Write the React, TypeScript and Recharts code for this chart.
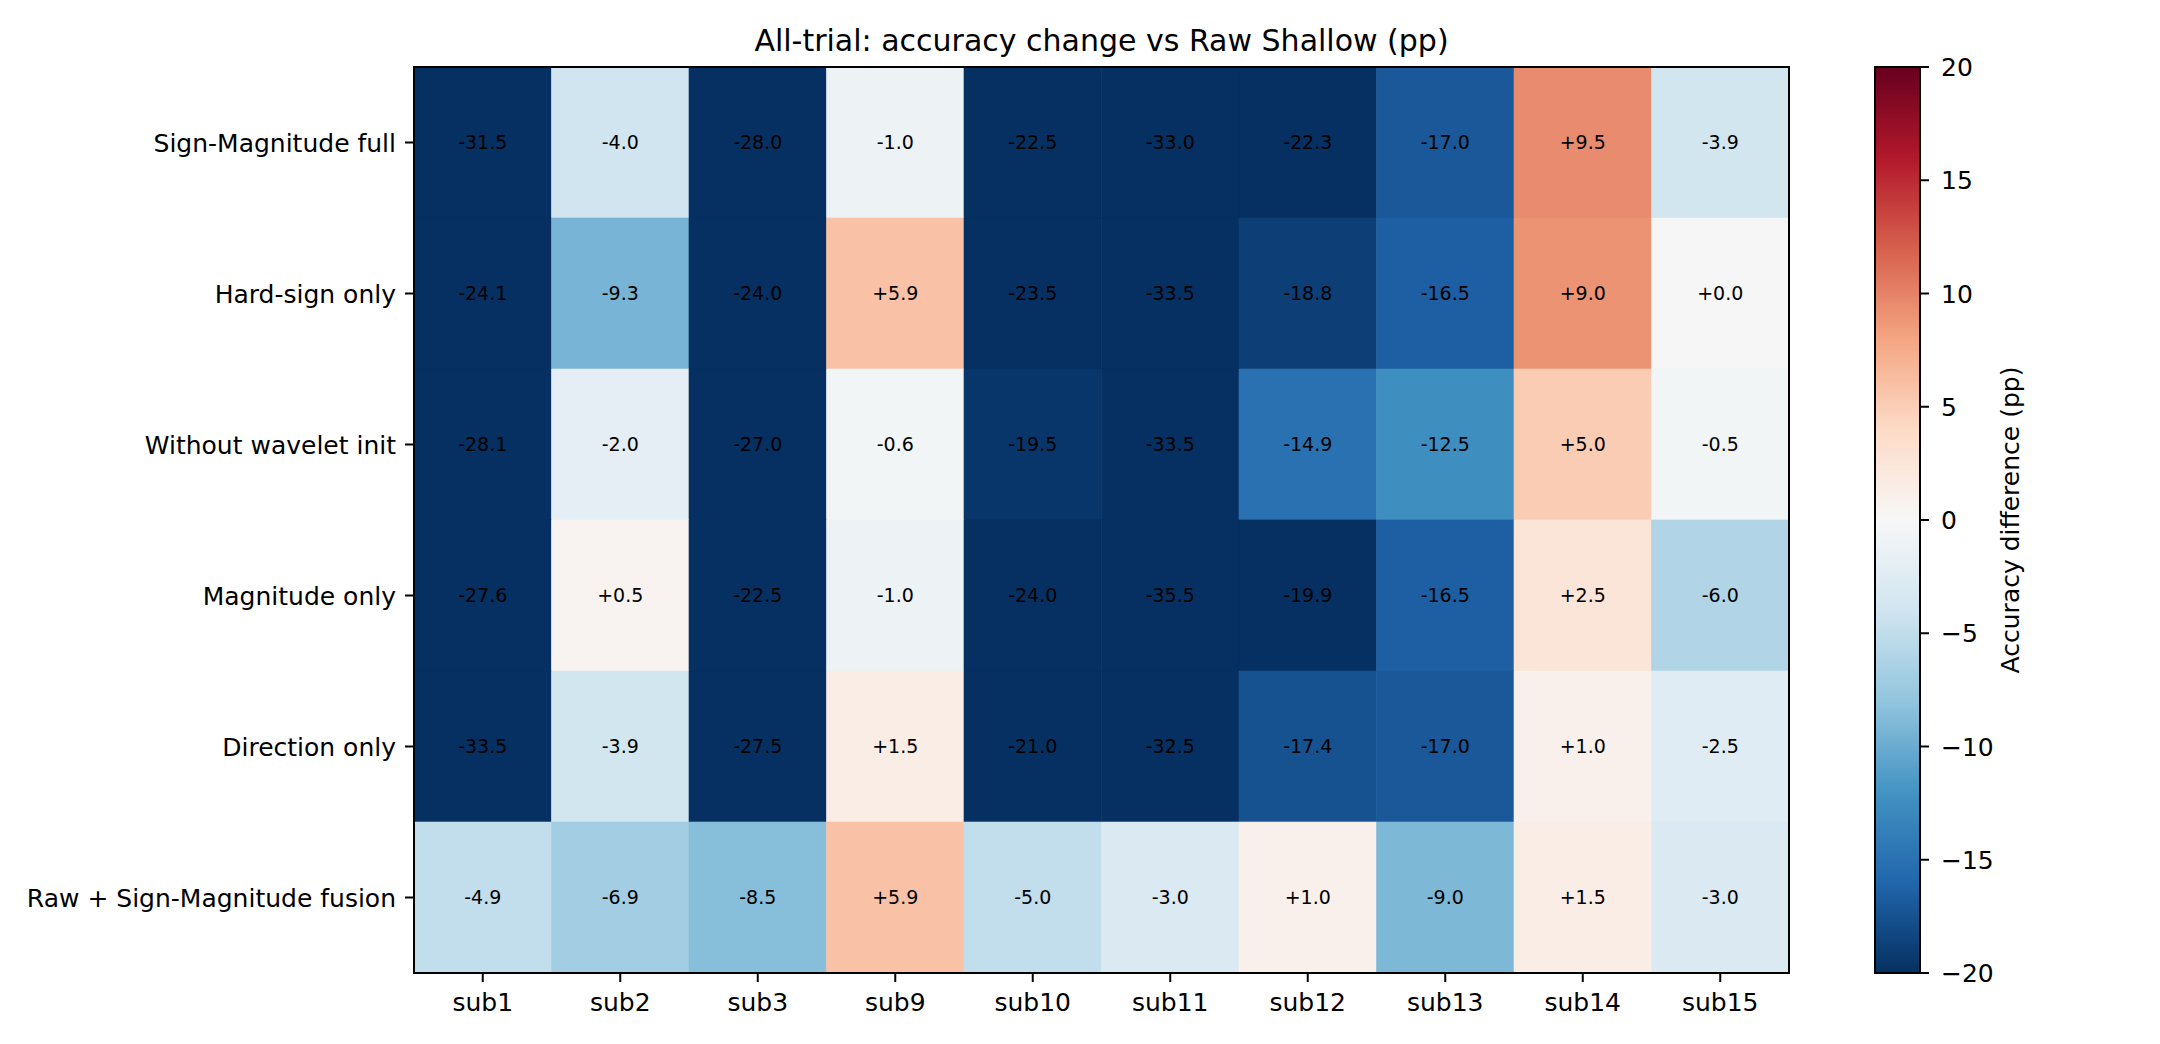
import React from 'react';
import { ComposedChart, XAxis, YAxis, ReferenceArea, Scatter } from 'recharts';

// Column (subject) and row (model variant) labels
const subjects = ['sub1', 'sub2', 'sub3', 'sub9', 'sub10', 'sub11', 'sub12', 'sub13', 'sub14', 'sub15'];
const variants = [
  'Sign-Magnitude full',
  'Hard-sign only',
  'Without wavelet init',
  'Magnitude only',
  'Direction only',
  'Raw + Sign-Magnitude fusion',
];

// Accuracy change vs Raw Shallow, in percentage points, one array per variant
const signMagnitudeFull = [-31.5, -4.0, -28.0, -1.0, -22.5, -33.0, -22.3, -17.0, 9.5, -3.9];
const hardSignOnly = [-24.1, -9.3, -24.0, 5.9, -23.5, -33.5, -18.8, -16.5, 9.0, 0.0];
const withoutWaveletInit = [-28.1, -2.0, -27.0, -0.6, -19.5, -33.5, -14.9, -12.5, 5.0, -0.5];
const magnitudeOnly = [-27.6, 0.5, -22.5, -1.0, -24.0, -35.5, -19.9, -16.5, 2.5, -6.0];
const directionOnly = [-33.5, -3.9, -27.5, 1.5, -21.0, -32.5, -17.4, -17.0, 1.0, -2.5];
const rawSignMagnitudeFusion = [-4.9, -6.9, -8.5, 5.9, -5.0, -3.0, 1.0, -9.0, 1.5, -3.0];

const rowValues = [
  signMagnitudeFull,
  hardSignOnly,
  withoutWaveletInit,
  magnitudeOnly,
  directionOnly,
  rawSignMagnitudeFusion,
];

// Colour scale limits and colorbar ticks
const V_MIN = -20;
const V_MAX = 20;
const colorbarTicks = [-20, -15, -10, -5, 0, 5, 10, 15, 20];

const TITLE = 'All-trial: accuracy change vs Raw Shallow (pp)';
const CBAR_LABEL = 'Accuracy difference (pp)';
const FONT = '"DejaVu Sans", Verdana, sans-serif';

// Diverging red-blue palette, blue for negative, red for positive
const RDBU_R = [
  '#053061', '#2166ac', '#4393c3', '#92c5de', '#d1e5f0', '#f7f7f7',
  '#fddbc7', '#f4a582', '#d6604d', '#b2182b', '#67001f',
];

function hexToRgb(h: string): number[] {
  return [1, 3, 5].map((i) => parseInt(h.slice(i, i + 2), 16));
}
const PALETTE = RDBU_R.map(hexToRgb);

function colorFor(v: number): string {
  let t = (v - V_MIN) / (V_MAX - V_MIN);
  t = Math.max(0, Math.min(1, t));
  const q = Math.min(255, Math.floor(t * 256)) / 255; // 256-level lookup table
  const s = q * (PALETTE.length - 1);
  const k = Math.min(PALETTE.length - 2, Math.floor(s));
  const f = s - k;
  const c = PALETTE[k].map((a, i) => Math.round(a + (PALETTE[k + 1][i] - a) * f));
  return `rgb(${c[0]},${c[1]},${c[2]})`;
}

function fmtSigned(v: number): string {
  return (v < 0 ? '-' : '+') + Math.abs(v).toFixed(1);
}

function fmtTick(v: number): string {
  return v < 0 ? '\u2212' + Math.abs(v) : String(v);
}

type Cell = { x: number; y: number; v: number };
const cells: Cell[] = rowValues.flatMap((row, r) => row.map((v, c) => ({ x: c, y: r, v })));

const colIdx = subjects.map((_, i) => i);
const rowIdx = variants.map((_, i) => i);

const XTick = (props: any) => {
  const { x, y, payload } = props;
  return (
    <text x={x} y={y} dy={20} textAnchor="middle" fontFamily={FONT} fontSize={25} fill="#000">
      {subjects[payload.value]}
    </text>
  );
};

const YTick = (props: any) => {
  const { x, y, payload } = props;
  return (
    <text x={x} y={y} dy={9} textAnchor="end" fontFamily={FONT} fontSize={25} fill="#000">
      {variants[payload.value]}
    </text>
  );
};

const CbarTick = (props: any) => {
  const { x, y, payload } = props;
  return (
    <text x={x} y={y} dy={9} textAnchor="start" fontFamily={FONT} fontSize={25} fill="#000">
      {fmtTick(payload.value)}
    </text>
  );
};

const CellLabel = (props: any) => {
  const { cx, cy, payload } = props;
  return (
    <text x={cx} y={cy} dy={6} textAnchor="middle" fontFamily={FONT} fontSize={19} fill="#000">
      {fmtSigned(payload.v)}
    </text>
  );
};

const CbarLabel = (props: any) => {
  const { viewBox } = props;
  const cx = viewBox.x + viewBox.width / 2;
  const cy = viewBox.y + viewBox.height / 2;
  return (
    <text
      x={cx}
      y={cy}
      transform={`rotate(-90 ${cx} ${cy})`}
      dy={9}
      textAnchor="middle"
      fontFamily={FONT}
      fontSize={25}
      fill="#000"
    >
      {CBAR_LABEL}
    </text>
  );
};

const W = 2160;
const H = 1044;

export default function App() {
  return (
    <div style={{ position: 'absolute', left: 0, top: 0, width: W, height: H, background: '#fff' }}>
      <div
        style={{
          position: 'absolute',
          left: 414,
          width: 1375,
          top: 25.6,
          textAlign: 'center',
          fontFamily: FONT,
          fontSize: 30,
          lineHeight: '30px',
          color: '#000',
          whiteSpace: 'nowrap',
        }}
      >
        {TITLE}
      </div>

      {/* heatmap */}
      <div style={{ position: 'absolute', left: 0, top: 0 }}>
        <ComposedChart width={W} height={H} data={cells} margin={{ top: 67, right: 371, bottom: 11, left: 0 }}>
          <XAxis
            type="number"
            dataKey="x"
            domain={[-0.5, subjects.length - 0.5]}
            ticks={colIdx}
            interval={0}
            allowDataOverflow
            height={60}
            tickSize={9}
            tickMargin={9}
            axisLine={false}
            tickLine={{ stroke: '#000', strokeWidth: 2 }}
            tick={<XTick />}
          />
          <YAxis
            type="number"
            dataKey="y"
            domain={[-0.5, variants.length - 0.5]}
            reversed
            ticks={rowIdx}
            interval={0}
            allowDataOverflow
            width={414}
            tickSize={9}
            tickMargin={9}
            axisLine={false}
            tickLine={{ stroke: '#000', strokeWidth: 2 }}
            tick={<YTick />}
          />
          {cells.map((c) => (
            <ReferenceArea
              key={`cell-${c.x}-${c.y}`}
              x1={c.x - 0.5}
              x2={c.x + 0.5}
              y1={c.y - 0.5}
              y2={c.y + 0.5}
              fill={colorFor(c.v)}
              fillOpacity={1}
              stroke={colorFor(c.v)}
              strokeWidth={0.6}
              strokeOpacity={1}
              ifOverflow="visible"
            />
          ))}
          <ReferenceArea
            x1={-0.5}
            x2={subjects.length - 0.5}
            y1={-0.5}
            y2={variants.length - 0.5}
            fill="none"
            fillOpacity={0}
            stroke="#000"
            strokeWidth={2}
            strokeOpacity={1}
            ifOverflow="visible"
          />
          <Scatter data={cells} dataKey="v" shape={<CellLabel />} isAnimationActive={false} />
        </ComposedChart>
      </div>

      {/* colorbar */}
      <div style={{ position: 'absolute', left: 0, top: 0 }}>
        <ComposedChart width={W} height={H} margin={{ top: 67, right: 60, bottom: 71, left: 1875 }}>
          <defs>
            <linearGradient id="cbarGradient" x1="0" y1="1" x2="0" y2="0">
              {RDBU_R.map((col, i) => (
                <stop key={col} offset={i / (RDBU_R.length - 1)} stopColor={col} />
              ))}
            </linearGradient>
          </defs>
          <XAxis type="number" dataKey="x" domain={[0, 1]} hide allowDataOverflow />
          <YAxis
            type="number"
            orientation="right"
            domain={[V_MIN, V_MAX]}
            ticks={colorbarTicks}
            interval={0}
            allowDataOverflow
            width={180}
            tickSize={9}
            tickMargin={12}
            axisLine={false}
            tickLine={{ stroke: '#000', strokeWidth: 2 }}
            tick={<CbarTick />}
            label={<CbarLabel />}
          />
          <ReferenceArea
            x1={0}
            x2={1}
            y1={V_MIN}
            y2={V_MAX}
            fill="url(#cbarGradient)"
            fillOpacity={1}
            stroke="#000"
            strokeWidth={2}
            strokeOpacity={1}
            ifOverflow="visible"
          />
        </ComposedChart>
      </div>
    </div>
  );
}
